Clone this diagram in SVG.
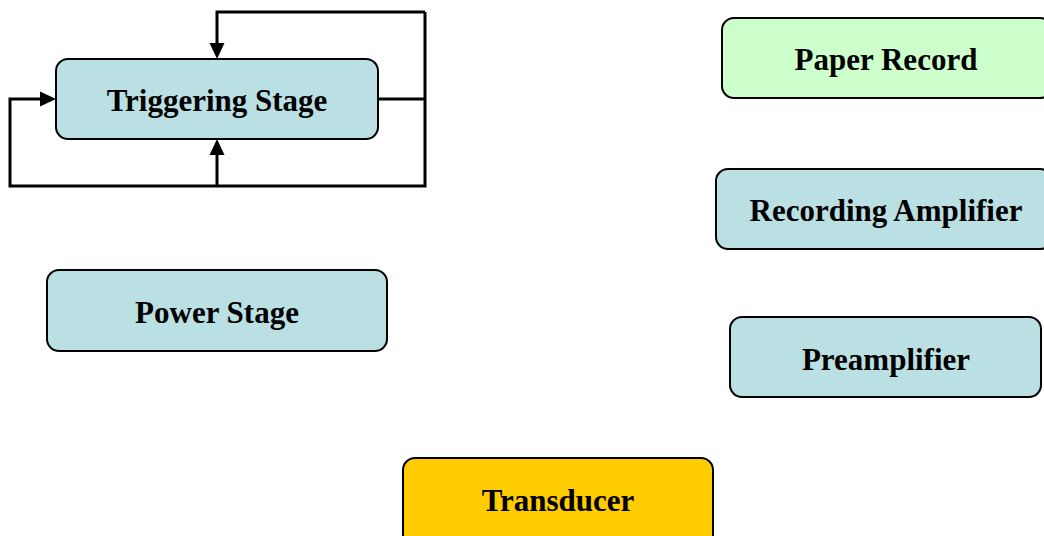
<svg xmlns="http://www.w3.org/2000/svg" width="1044" height="536" viewBox="0 0 1044 536">
<defs>
<style>
.box{stroke:#000;stroke-width:2}
.blue{fill:#BAE0E3}
.green{fill:#CCFFCC}
.yellow{fill:#FFCC00}
.lbl{font-family:"Liberation Serif","Times New Roman",serif;font-weight:bold;font-size:31px;text-anchor:middle;fill:#000}
.wire{fill:none;stroke:#000;stroke-width:3}
</style>
</defs>
<rect width="1044" height="536" fill="#fff"/>
<g id="connectors">
<path class="wire" d="M378,99 H425"/>
<path class="wire" d="M425,12 V186 H10 V99 H42"/>
<path class="wire" d="M425,12 H217 V43"/>
<path class="wire" d="M217,186 V155"/>
<path d="M40,91.5 L56,99 L40,106.5 z" fill="#000"/>
<path d="M209.5,43 L217,59 L224.5,43 z" fill="#000"/>
<path d="M209.5,155 L217,139 L224.5,155 z" fill="#000"/>
</g>
<g id="triggering">
<rect class="box blue" x="56" y="59" width="322" height="80" rx="12"/>
<text class="lbl" x="217" y="111">Triggering Stage</text>
</g>
<g id="paper">
<rect class="box green" x="722" y="18" width="330" height="80" rx="12"/>
<text class="lbl" x="886" y="70">Paper Record</text>
</g>
<g id="recamp">
<rect class="box blue" x="716" y="169" width="336" height="80" rx="12"/>
<text class="lbl" x="886" y="221">Recording Amplifier</text>
</g>
<g id="power">
<rect class="box blue" x="47" y="270" width="340" height="81" rx="12"/>
<text class="lbl" x="217" y="323">Power Stage</text>
</g>
<g id="preamp">
<rect class="box blue" x="730" y="317" width="311" height="80" rx="12"/>
<text class="lbl" x="886" y="370">Preamplifier</text>
</g>
<g id="transducer">
<rect class="box yellow" x="403" y="458" width="310" height="90" rx="12"/>
<text class="lbl" x="558" y="511">Transducer</text>
</g>
</svg>
